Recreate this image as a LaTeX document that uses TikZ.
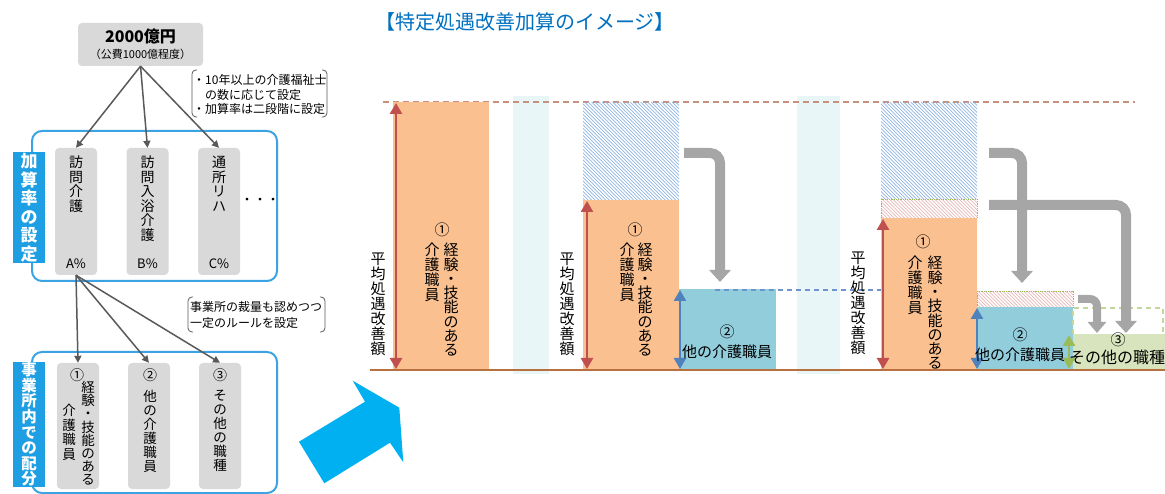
\documentclass[tikz,border=0pt]{standalone}
\usepackage{fontspec}
\setmainfont{Noto Sans CJK JP}
\usetikzlibrary{arrows.meta}
\definecolor{boxgray}{HTML}{D9D9D9}
\definecolor{lblue}{HTML}{1E9FE3}
\definecolor{fblue}{HTML}{3BA3E3}
\definecolor{dgray}{HTML}{595959}
\definecolor{titleblue}{HTML}{0070C0}
\definecolor{basebrown}{HTML}{B9703F}
\definecolor{topdash}{HTML}{C9907E}
\definecolor{cyanpale}{HTML}{E9F6F7}
\definecolor{orangebar}{HTML}{FAC090}
\definecolor{bluebar}{HTML}{92CDDC}
\definecolor{greenbar}{HTML}{D7E4BD}
\definecolor{redc}{HTML}{C0504D}
\definecolor{bluec}{HTML}{4F81BD}
\definecolor{greenc}{HTML}{9BBB59}
\definecolor{arrgray}{HTML}{A6A6A6}
\definecolor{hatchblue}{HTML}{8EB4E3}
\definecolor{hatchpink}{HTML}{E6B9B8}
\definecolor{bdash}{HTML}{6D94CF}
\definecolor{gdash}{HTML}{C3D69B}
\definecolor{bigarrow}{HTML}{00B0F0}
\begin{document}
\begin{tikzpicture}[x=1pt,y=-1pt,
  gbox/.style={fill=boxgray, rounded corners=4pt, minimum width=42pt, inner sep=0pt},
  frame/.style={draw=fblue, line width=2pt, rounded corners=10pt},
  lbl/.style={fill=lblue, inner sep=0pt, minimum width=32pt},
  darr/.style={draw=dgray, line width=1.5pt, -{Triangle[width=7pt,length=7pt]}},
  vt/.style={align=center, inner sep=0pt, anchor=north},
  brk/.style={draw=black!65, line width=0.8pt, rounded corners=4pt},
  note/.style={anchor=west, inner sep=0pt, font=\fontsize{12}{12}\selectfont},
  redarr/.style={draw=redc, line width=2.5pt, {Triangle[width=12pt,length=11pt]}-{Triangle[width=12pt,length=11pt]}},
  bluearr/.style={draw=bluec, line width=2.5pt, {Triangle[width=12pt,length=11pt]}-{Triangle[width=12pt,length=11pt]}},
  greenarr/.style={draw=greenc, line width=2.5pt, {Triangle[width=12pt,length=11pt]}-{Triangle[width=12pt,length=11pt]}},
  garrow/.style={draw=arrgray, line width=10pt, rounded corners=10pt, -{Triangle[width=21pt,length=12pt]}},
  hline/.style={line width=0.7pt},
  ctext/.style={inner sep=0pt, font=\fontsize{15}{15}\selectfont}
]
\useasboundingbox (0,0) rectangle (1165,494);

% ================= LEFT PART =================
\node[gbox, minimum width=125pt, minimum height=43pt] (top) at (140.5,44.5) {};
\node[inner sep=0pt, font=\fontsize{16}{16}\selectfont\bfseries] (topa) at (140.5,36) {2000億円};
\node[inner sep=0pt, font=\fontsize{11}{11}\selectfont] (topb) at (140.5,54) {（公費1000億程度）};

% note 1
\draw[brk] (197,70) -- (192,70) -- (192,117) -- (197,117);
\draw[brk] (322,70) -- (327,70) -- (327,117) -- (322,117);
\node[note] (n1a) at (193,80) {・10年以上の介護福祉士};
\node[note] (n1b) at (205,95) {の数に応じて設定};
\node[note] (n1c) at (193,109) {・加算率は二段階に設定};

% frame 1
\draw[frame] (32,131) rectangle (277,281);
\node[lbl, minimum height=111pt] (lab1) at (29,207.5) {};
\node[vt, anchor=center, text=white, font=\fontsize{17}{18.5}\selectfont\bfseries] (lab1t) at (29,207.5) {加\\算\\率\\の\\設\\定};

\node[gbox, minimum height=127pt] (v1) at (76,211.5) {};
\node[gbox, minimum height=127pt] (v2) at (147.5,211.5) {};
\node[gbox, minimum height=127pt] (v3) at (219,211.5) {};
\node[vt, font=\fontsize{14}{14.5}\selectfont] (v1t) at (76,156) {訪\\問\\介\\護};
\node[vt, font=\fontsize{14}{14.5}\selectfont] (v2t) at (147.5,156) {訪\\問\\入\\浴\\介\\護};
\node[vt, font=\fontsize{14}{14.5}\selectfont] (v3t) at (219,156) {通\\所\\リ\\ハ};
\node[inner sep=0pt, font=\fontsize{13}{13}\selectfont] (pa) at (76,264) {A\%};
\node[inner sep=0pt, font=\fontsize{13}{13}\selectfont] (pb) at (147.5,264) {B\%};
\node[inner sep=0pt, font=\fontsize{13}{13}\selectfont] (pc) at (219,264) {C\%};
\node[inner sep=0pt, font=\fontsize{13}{13}\selectfont] (dots) at (260,201) {・・・};

\draw[darr] (top.south) -- (v1.north);
\draw[darr] (top.south) -- (v2.north);
\draw[darr] (top.south) -- (v3.north);

% note 2
\draw[brk] (193,297) -- (188,297) -- (188,332) -- (193,332);
\draw[brk] (320,297) -- (325,297) -- (325,332) -- (320,332);
\node[note] (n2a) at (190,307) {事業所の裁量も認めつつ};
\node[note] (n2b) at (190,323) {一定のルールを設定};

% frame 2
\draw[frame] (32,352) rectangle (277,493);
\node[lbl, minimum height=125pt] (lab2) at (29,424.5) {};
\node[vt, anchor=center, text=white, font=\fontsize{15.5}{15.6}\selectfont\bfseries] (lab2t) at (29,424.5) {事\\業\\所\\内\\で\\の\\配\\分};

\node[gbox, minimum height=126pt] (w1) at (78,426) {};
\node[gbox, minimum height=126pt] (w2) at (149,426) {};
\node[gbox, minimum height=126pt] (w3) at (220,426) {};
\node[inner sep=0pt, font=\fontsize{14}{14}\selectfont] (w1n) at (77,375) {①};
\node[vt, font=\fontsize{13.5}{13.2}\selectfont] (w1a) at (88,381) {経\\験\\・\\技\\能\\の\\あ\\る};
\node[vt, font=\fontsize{13.5}{14.5}\selectfont] (w1b) at (69,404) {介\\護\\職\\員};
\node[inner sep=0pt, font=\fontsize{14}{14}\selectfont] (w2n) at (150,375) {②};
\node[vt, font=\fontsize{13.5}{14}\selectfont] (w2a) at (150,390) {他\\の\\介\\護\\職\\員};
\node[inner sep=0pt, font=\fontsize{14}{14}\selectfont] (w3n) at (220,375) {③};
\node[vt, font=\fontsize{13.5}{14}\selectfont] (w3a) at (220,390) {そ\\の\\他\\の\\職\\種};

\draw[darr] (v1.south) -- (w1.north);
\draw[darr] (v1.south) -- (w2.north);
\draw[darr] (v1.south) -- (w3.north);

% big arrow
\fill[bigarrow] (352.7,380.7) -- (399.3,407.7) -- (403.3,462.3) -- (390,442.7) -- (324.3,483.3) -- (299,441.7) -- (365,401.7) -- cycle;

% ================= RIGHT PART =================
\node[anchor=west, inner sep=0pt, text=titleblue, font=\fontsize{20}{20}\selectfont] (title) at (375,22) {【特定処遇改善加算のイメージ】};

% pale columns
\fill[cyanpale] (513,96) rectangle (549,374);
\fill[cyanpale] (797,96) rectangle (840,374);

% top dashed line
\draw[topdash, line width=1.5pt, dash pattern=on 6pt off 4pt] (383,102) -- (1135,102);

% chart 1
\fill[orangebar] (393,102) rectangle (489,370);
\draw[redarr] (396,103) -- (396,369);
\node[vt, ctext] (c1v) at (378,253) {平\\均\\処\\遇\\改\\善\\額};
\node[ctext] (c1n) at (442,230) {①};
\node[vt, font=\fontsize{15}{14.3}\selectfont] (c1a) at (451,243) {経\\験\\・\\技\\能\\の\\あ\\る};
\node[vt, font=\fontsize{15}{15}\selectfont] (c1b) at (432,243) {介\\護\\職\\員};

% chart 2
\begin{scope}
\clip (583,102) rectangle (679,200);
\foreach \s in {-100,-96.5,...,96} \draw[hline, hatchblue] (583+\s,102) -- ++(100,100);
\end{scope}
\fill[orangebar] (583,200) rectangle (679,370);
\draw[redarr] (587,201) -- (587,369);
\node[vt, ctext] (c2v) at (567,253) {平\\均\\処\\遇\\改\\善\\額};
\node[ctext] (c2n) at (635,230) {①};
\node[vt, font=\fontsize{15}{14.3}\selectfont] (c2a) at (645,243) {経\\験\\・\\技\\能\\の\\あ\\る};
\node[vt, font=\fontsize{15}{15}\selectfont] (c2b) at (627,243) {介\\護\\職\\員};
\fill[bluebar] (679,289) rectangle (776,370);
\draw[bluearr] (680,290) -- (680,369);
\node[ctext] (c2bn) at (727,332) {②};
\node[ctext] (c2bt) at (727,352) {他の介護職員};
\draw[garrow] (684,153) -- (720,153) -- (720,282);

% blue dashed level line
\draw[bdash, line width=1.2pt, dash pattern=on 5pt off 4pt] (715,290) -- (977,290);

% chart 3
\begin{scope}
\clip (881,102) rectangle (977,199);
\foreach \s in {-100,-96.5,...,96} \draw[hline, hatchblue] (881+\s,102) -- ++(100,100);
\end{scope}
\begin{scope}
\clip (881,199) rectangle (977,218);
\foreach \s in {-20,-16.5,...,96} \draw[hline, hatchpink] (881+\s,199) -- ++(20,20);
\end{scope}
\draw[greenc, line width=0.8pt, densely dotted] (881,199) rectangle (977,218);
\fill[orangebar] (881,218) rectangle (977,370);
\draw[redarr] (883,219) -- (883,369);
\node[vt, ctext] (c3v) at (858,252) {平\\均\\処\\遇\\改\\善\\額};
\node[ctext] (c3n) at (923,242) {①};
\node[vt, font=\fontsize{15}{14.3}\selectfont] (c3a) at (935,256) {経\\験\\・\\技\\能\\の\\あ\\る};
\node[vt, font=\fontsize{15}{15}\selectfont] (c3b) at (915,256) {介\\護\\職\\員};

\begin{scope}
\clip (977,291) rectangle (1073,307);
\foreach \s in {-20,-16.5,...,96} \draw[hline, hatchpink] (977+\s,291) -- ++(20,20);
\end{scope}
\draw[greenc, line width=0.8pt, densely dotted] (977,291) rectangle (1073,307);
\fill[bluebar] (977,307) rectangle (1073,370);
\draw[bluearr] (977,308) -- (977,369);
\node[ctext] (c3bn) at (1020,335) {②};
\node[ctext] (c3bt) at (1020,355) {他の介護職員};

\draw[gdash, line width=1.2pt, dash pattern=on 5pt off 4pt] (1073,334) -- (1073,308) -- (1163,308) -- (1163,334);
\fill[greenbar] (1073,334) rectangle (1165,370);
\draw[greenarr] (1069,335) -- (1069,369);
\node[ctext] (c3gn) at (1118,340) {③};
\node[ctext, font=\fontsize{16}{16}\selectfont] (c3gt) at (1117,357) {その他の職種};

\draw[garrow] (989,205) -- (1126,205) -- (1126,333);
\draw[garrow] (989,153) -- (1022,153) -- (1022,283);
\draw[garrow, line width=8pt, rounded corners=7pt, -{Triangle[width=18pt,length=11pt]}] (1078,299) -- (1097,299) -- (1097,333);

% baseline
\draw[basebrown, line width=2pt] (370,370) -- (1165,370);
\end{tikzpicture}
\end{document}
